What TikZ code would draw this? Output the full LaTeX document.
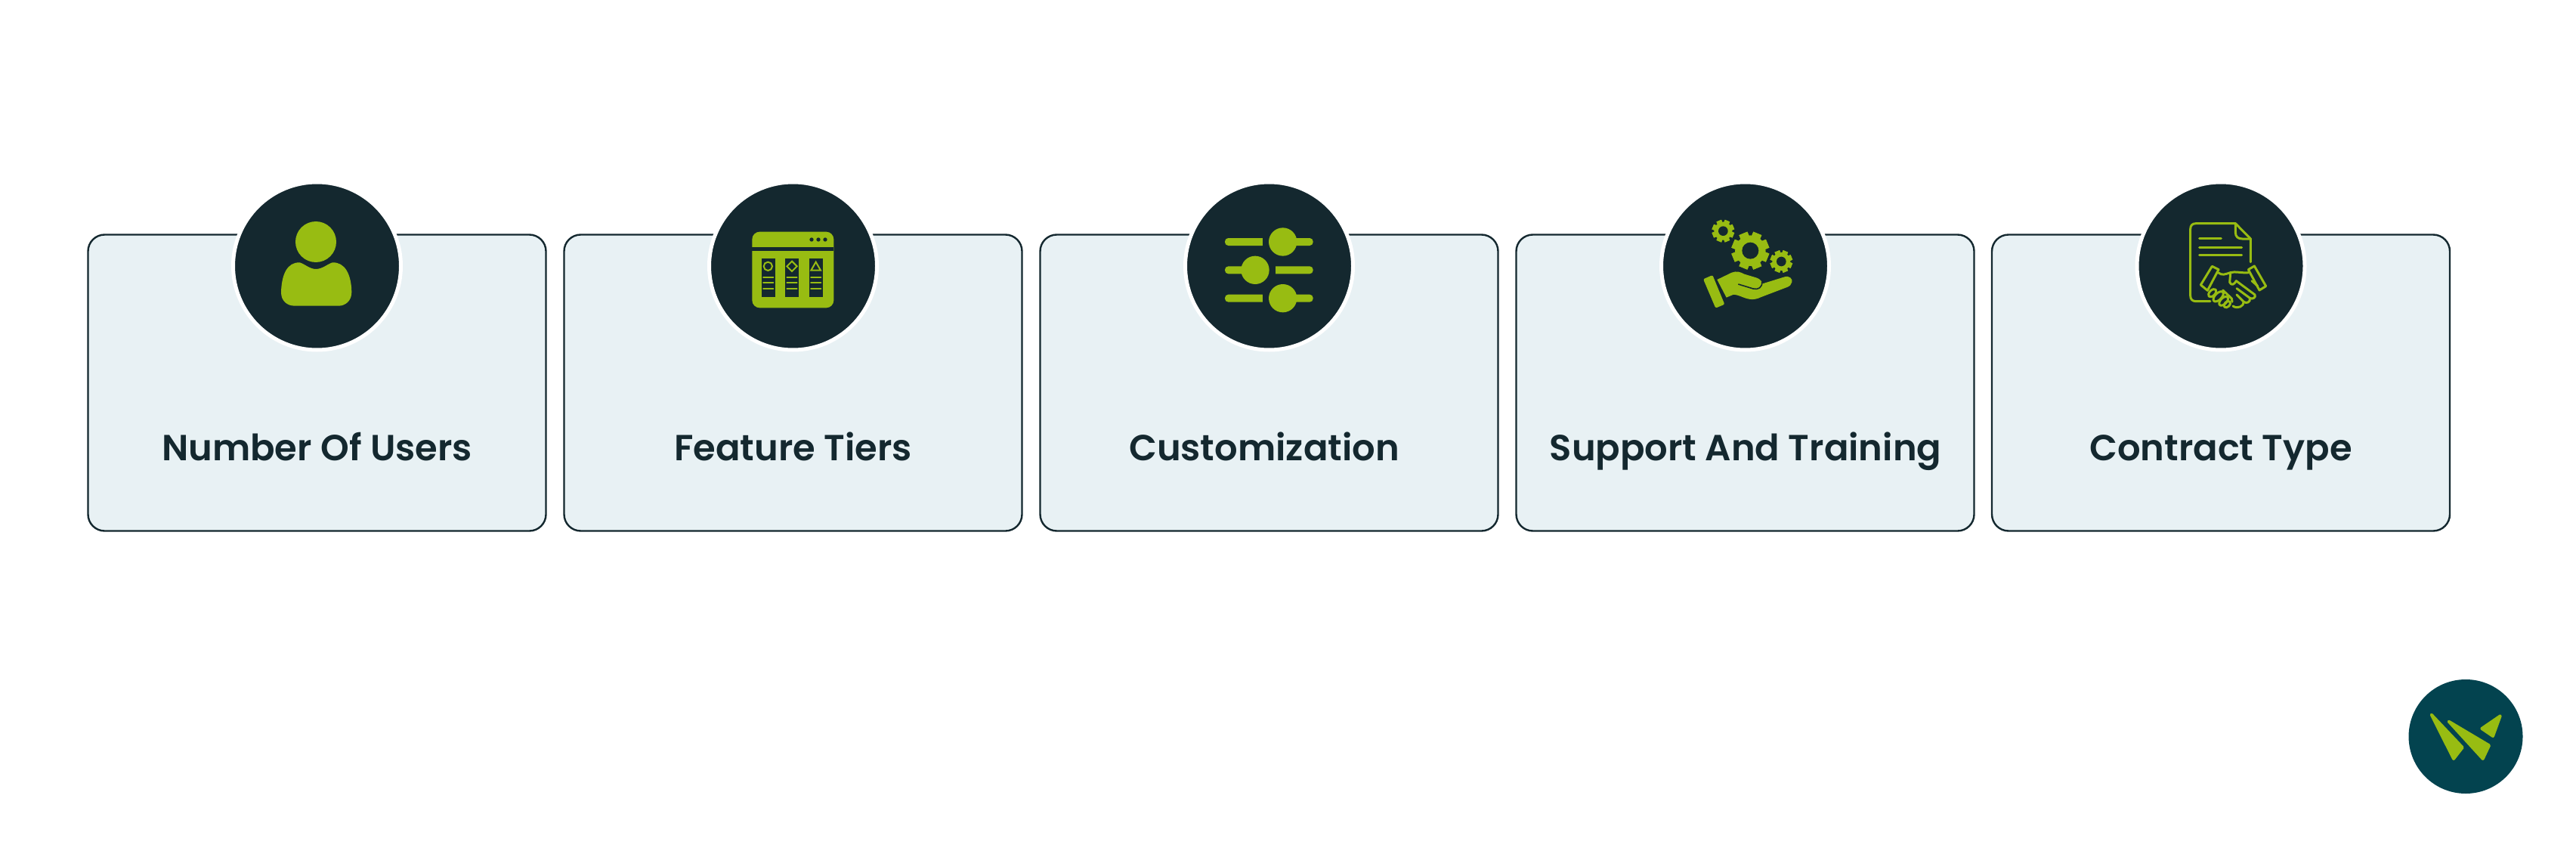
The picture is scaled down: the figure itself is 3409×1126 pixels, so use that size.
\documentclass[tikz,border=0pt]{standalone}
\usepackage{fontspec}
\setmainfont{Poppins SemiBold}
\definecolor{ink}{HTML}{14282F}
\definecolor{cardbg}{HTML}{E8F1F4}
\definecolor{lime}{HTML}{98BC12}
\definecolor{teal}{HTML}{03434F}
\tikzset{
  card/.style={draw=ink,fill=cardbg,line width=2.4pt,rounded corners=22pt,minimum width=606pt,minimum height=392pt,inner sep=0pt,outer sep=0pt},
  disc/.style={circle,fill=ink,draw=white,line width=5pt,minimum size=222pt,inner sep=0pt,outer sep=0pt},
  cardlabel/.style={text=ink,anchor=base,font=\fontsize{48}{50}\selectfont,inner sep=0pt},
  icon/.style={x=0.33333pt,y=-0.33333pt},
  gl/.style={draw=lime,line width=3pt,line cap=round,line join=round,fill=none},
}
\newcommand{\gearicon}[4]{% x,y,outer,hole
  \foreach \a in {0,45,...,315}{
    \fill[lime,rotate around={\a+22.5:(#1,#2)}] ($(#1,#2)+(-#3*0.24,-#3)$) rectangle ($(#1,#2)+(#3*0.24,#3)$);
  }
  \fill[lime] (#1,#2) circle[radius=#3*0.82];
  \fill[ink] (#1,#2) circle[radius=#4];
}
\usetikzlibrary{calc}
\begin{document}
\begin{tikzpicture}[x=1pt,y=-1pt]
\useasboundingbox[fill=white] (0,0) rectangle (3409,1126);

\foreach \n/\cx/\tx/\t in {a/419.5/419.5/Number Of Users,b/1049.5/1049.5/Feature Tiers,c/1679.5/1673/Customization,d/2309.5/2310/Support And Training,e/2939/2939/Contract Type}{
  \node[card] (card\n) at (\cx,506.5) {};
  \node[disc] (disc\n) at (\cx,352) {};
  \node[cardlabel] (label\n) at (\tx,609.5) {\t};
}

% user icon
\begin{scope}[shift={(300,230)},icon]
  \fill[lime] (354,270) circle[radius=81];
  \fill[lime] (290,352) .. controls (310,358) and (330,378) .. (354,378)
     .. controls (380,378) and (400,358) .. (420,352)
     .. controls (470,350) and (495,400) .. (496,470)
     .. controls (496,505) and (470,524) .. (445,524)
     -- (270,524) .. controls (240,524) and (216,505) .. (216,470)
     .. controls (218,400) and (240,350) .. (290,352) -- cycle;
\end{scope}

% browser icon
\begin{scope}[shift={(930,230)},icon]
  \fill[lime,rounded corners=10pt] (196,230) rectangle (520,532);
  \fill[ink] (196,292) rectangle (520,307);
  \foreach \x in {432,459,486}{\fill[ink] (\x,261) circle[radius=8];}
  \foreach \x in {233,327,422}{
    \fill[ink] (\x,336) rectangle (\x+54,490);
    \foreach \y in {411,433,455}{\draw[lime,line width=2pt,line cap=round] (\x+7,\y) -- (\x+47,\y);}
  }
  \draw[lime,line width=2pt] (259,367) circle[radius=17];
  \draw[lime,line width=2pt] (354,347) -- (374,367) -- (354,387) -- (334,367) -- cycle;
  \draw[lime,line width=2pt] (449,350) -- (468,383) -- (430,383) -- cycle;
\end{scope}

% sliders icon
\begin{scope}[shift={(1560,230)},icon]
  \foreach \y in {270,494}{
    \fill[lime,rounded corners=4.5pt] (183,\y-15) rectangle (345,\y+15);
    \fill[ink] (332,\y-20) rectangle (350,\y+20);
    \fill[lime,rounded corners=4.5pt] (440,\y-15) rectangle (533,\y+15);
    \fill[lime] (413,\y) circle[radius=56];
  }
  \fill[lime,rounded corners=4.5pt] (183,367) rectangle (290,397);
  \fill[lime] (303,382) circle[radius=56];
  \fill[lime,rounded corners=4.5pt] (370,367) rectangle (533,397);
  \fill[ink] (360,362) rectangle (385,402);
\end{scope}

% support icon
\begin{scope}[shift={(2190,230)},icon]
  \gearicon{271}{227}{44}{19}
  \gearicon{379}{305}{74}{33}
  \gearicon{502}{348}{44}{19}
  \fill[lime,rounded corners=2pt] (192,418) -- (229,402) -- (277,518) -- (241,533) -- cycle;
  \fill[lime] (247,420) -- (305,392) .. controls (325,384) and (340,390) .. (355,398)
     -- (405,413) .. controls (418,418) and (425,428) .. (428,436)
     -- (515,409) .. controls (535,403) and (548,418) .. (544,430)
     .. controls (542,440) and (535,446) .. (525,450)
     -- (420,490) .. controls (395,502) and (375,500) .. (350,490)
     .. controls (335,484) and (320,478) .. (310,480)
     -- (284,491) -- cycle;
  \draw[ink,line width=1.6pt] (331,438) -- (390,456) .. controls (410,462) and (428,450) .. (425,428);
\end{scope}

% contract icon
\begin{scope}[shift={(2820,230)},icon]
  \draw[gl] (315,506) -- (258,506) .. controls (244,506) and (236,498) .. (236,484) -- (236,219) .. controls (236,205) and (244,197) .. (258,197) -- (415,197) -- (475,258) -- (475,350);
  \draw[gl] (415,197) -- (415,232) .. controls (415,250) and (425,258) .. (442,258) -- (475,258);
  \draw[gl] (272,256) -- (358,256);
  \draw[gl] (272,291) -- (440,291);
  \draw[gl] (272,322) -- (440,322);
  % cuffs
  \draw[gl] (322,367) -- (348,380) -- (304,463) -- (277,441) -- cycle;
  \draw[gl] (490,366) -- (466,380) -- (510,462) -- (536,446) -- cycle;
  % hands
  \draw[gl] (348,393) .. controls (362,405) and (375,398) .. (395,392) .. controls (415,386) and (440,395) .. (468,392);
  \draw[gl] (395,395) -- (392,430) .. controls (398,445) and (410,440) .. (418,425) -- (492,480);
  \draw[gl] (480,425) -- (503,445);
  \draw[gl] (492,480) .. controls (498,490) and (482,500) .. (472,493) -- (420,455);
  \draw[gl] (472,493) .. controls (476,510) and (458,516) .. (448,508) -- (420,480);
  \draw[gl] (448,508) .. controls (448,525) and (425,538) .. (405,525);
  \draw[gl,rotate around={45:(323,473)}] (323,473) ellipse[x radius=19,y radius=11];
  \draw[gl,rotate around={45:(347,487)}] (347,487) ellipse[x radius=25,y radius=13];
  \draw[gl,rotate around={45:(368,505)}] (368,505) ellipse[x radius=22,y radius=12];
  \draw[gl,rotate around={45:(382,518)}] (382,518) ellipse[x radius=15,y radius=10];
  \draw[gl] (365,462) -- (400,495) -- (402,508);
\end{scope}

% logo
\node[circle,fill=teal,minimum size=151pt,inner sep=0pt] (logo) at (3263,974.5) {};
\begin{scope}[shift={(3170,880)},icon]
  \filldraw[lime,line width=4pt,line join=round] (143,197) -- (266,327) -- (231,372) -- cycle;
  \filldraw[lime,line width=4pt,line join=round] (212,224) -- (372,319) -- (347,372) -- cycle;
  \filldraw[lime,line width=4pt,line join=round] (416,202) -- (343,252) -- (387,282) -- cycle;
\end{scope}
\end{tikzpicture}
\end{document}
